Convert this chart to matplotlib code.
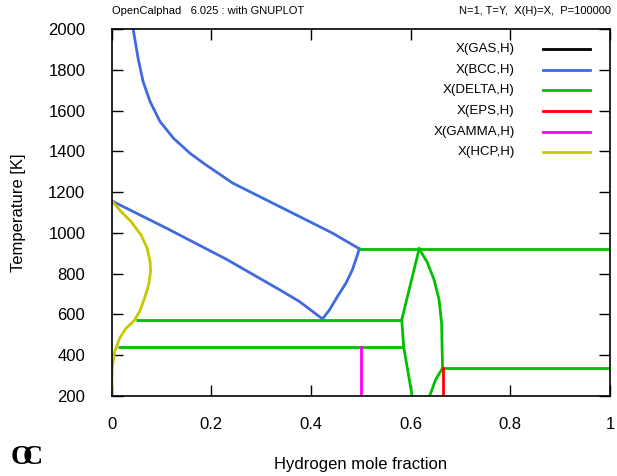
import matplotlib.pyplot as plt

plt.rcParams['font.family'] = ['Liberation Sans', 'DejaVu Sans']
plt.rcParams['mathtext.fontset'] = 'custom'
plt.rcParams['mathtext.bf'] = 'Liberation Serif:bold'

# phase names and colours, in legend order
phases = ["GAS", "BCC", "DELTA", "EPS", "GAMMA", "HCP"]
colors = ["#000000", "#4169e1", "#00c000", "#ff0000", "#ff00ff", "#c8c800"]

# BCC phase boundaries
bcc_top_x = [0.043, 0.053, 0.063, 0.077, 0.097, 0.124, 0.157, 0.187, 0.243, 0.31, 0.377, 0.443, 0.497]
bcc_top_t = [2000, 1856, 1742, 1644, 1546, 1464, 1391, 1337, 1244, 1162, 1080, 999, 922]
bcc_low_x = [0.0, 0.11, 0.23, 0.337, 0.377, 0.423]
bcc_low_t = [1157, 1023, 871, 721, 663, 578]
bcc_right_x = [0.423, 0.437, 0.453, 0.47, 0.483, 0.492, 0.497]
bcc_right_t = [578, 622, 688, 753, 819, 884, 922]

# HCP boundary
hcp_x = [0.0, 0.019, 0.039, 0.059, 0.071, 0.077, 0.078, 0.074, 0.066, 0.056, 0.045,
         0.029, 0.016, 0.006, 0.001, 0.0]
hcp_t = [1157, 1104, 1055, 990, 925, 860, 810, 745, 680, 614, 569, 533, 484, 418, 337, 200]

# DELTA boundaries and tie lines
delta_left_x = [0.617, 0.582, 0.586, 0.603]
delta_left_t = [922, 573, 440, 200]
delta_right_x = [0.617, 0.633, 0.647, 0.657, 0.662, 0.663, 0.664]
delta_right_t = [922, 857, 770, 672, 558, 443, 337]
delta_low_x = [0.638, 0.65, 0.664]
delta_low_t = [200, 280, 337]
tie_t = [922, 573, 440, 337]
tie_x0 = [0.497, 0.048, 0.013, 0.664]
tie_x1 = [1.0, 0.582, 0.586, 1.0]

# EPS and GAMMA lines
eps_x = [0.664, 0.664]
eps_t = [200, 337]
gamma_x = [0.5, 0.5]
gamma_t = [200, 440]

xticks = [0, 0.2, 0.4, 0.6, 0.8, 1]
xtick_labels = ["0", "0.2", "0.4", "0.6", "0.8", "1"]
yticks = list(range(200, 2001, 200))

fig = plt.figure(figsize=(6.17, 4.76), dpi=100)
ax = fig.add_axes([111.7 / 617, 1 - 396 / 476, (610 - 111.7) / 617, (396 - 29) / 476])

lw = 2.0
blue, green = colors[1], colors[2]
ax.plot(bcc_top_x, bcc_top_t, color=blue, lw=lw)
ax.plot(bcc_low_x, bcc_low_t, color=blue, lw=lw)
ax.plot(bcc_right_x, bcc_right_t, color=blue, lw=lw)
ax.plot(hcp_x, hcp_t, color=colors[5], lw=lw)
ax.plot(delta_left_x, delta_left_t, color=green, lw=lw)
ax.plot(delta_right_x, delta_right_t, color=green, lw=lw)
ax.plot(delta_low_x, delta_low_t, color=green, lw=lw)
ax.hlines(tie_t, tie_x0, tie_x1, color=green, lw=lw)
ax.plot(gamma_x, gamma_t, color=colors[4], lw=lw)
ax.plot(eps_x, eps_t, color=colors[3], lw=lw)

ax.set_xlim(0, 1)
ax.set_ylim(200, 2000)
ax.set_xticks(xticks)
ax.set_xticklabels(xtick_labels)
ax.set_yticks(yticks)
ax.tick_params(direction="in", length=8, width=1, top=True, right=True, labelsize=12)
ax.tick_params(axis="y", pad=19)
ax.tick_params(axis="x", pad=15)
for sp in ax.spines.values():
    sp.set_linewidth(1.2)

ax.set_xlabel("Hydrogen mole fraction", fontsize=12)
ax.set_ylabel("Temperature [K]", fontsize=12)
ax.xaxis.set_label_coords(0.5, -0.165)
ax.yaxis.set_label_coords(-0.172, 0.5)

# gnuplot style legend: label right aligned, line sample to the right
for i, (name, c) in enumerate(zip(phases, colors)):
    y = 0.945 - i * 0.0561
    ax.text(0.809, y, "X(%s,H)" % name, transform=ax.transAxes, ha="right", va="center", fontsize=9.5)
    ax.plot([0.866, 0.96], [y, y], transform=ax.transAxes, color=c, lw=lw)

fig.text(112 / 617, 1 - 11 / 476, "OpenCalphad   6.025 : with GNUPLOT", fontsize=8, va="center", ha="left")
fig.text(611 / 617, 1 - 11 / 476, "N=1, T=Y,  X(H)=X,  P=100000", fontsize=8, va="center", ha="right")

# OC logo, letters overlapping
fig.text(10 / 617, 1 - 457 / 476, r"$\mathbf{O}\!\!\mathbf{C}$", fontsize=20, va="center")

fig.savefig("out.png", dpi=100)
